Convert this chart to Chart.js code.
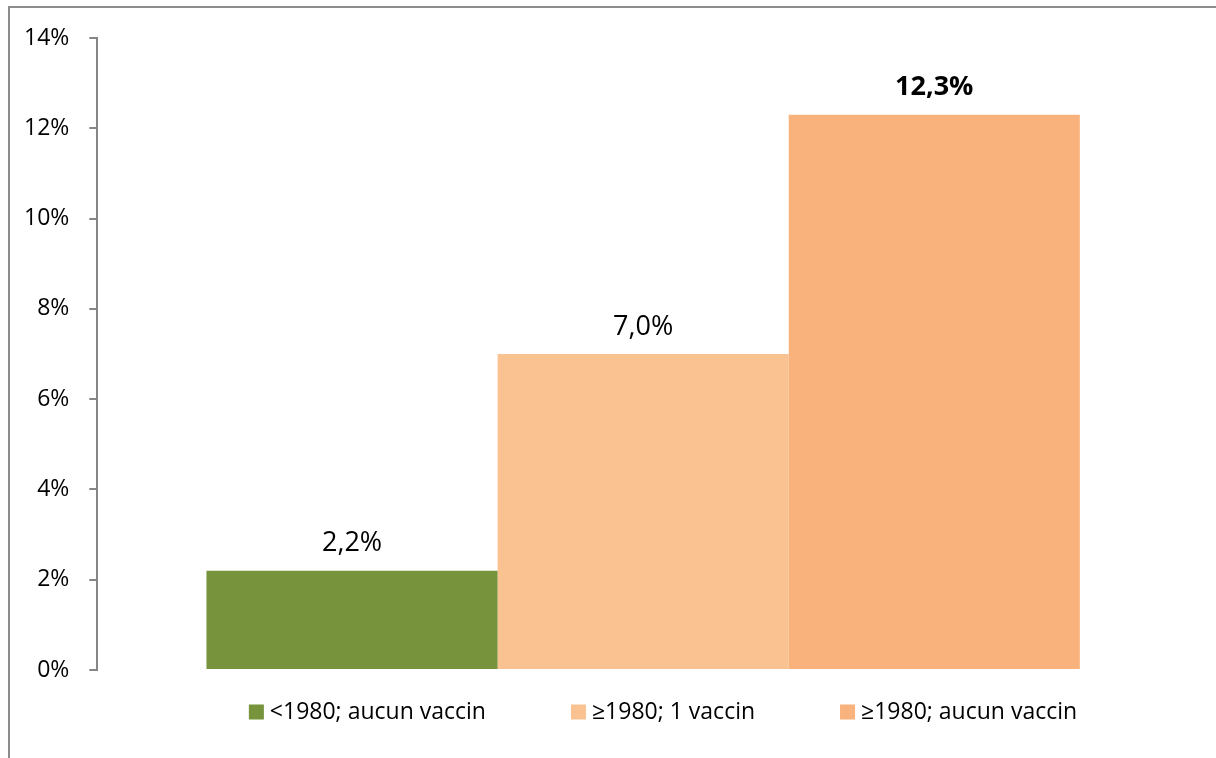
<!DOCTYPE html>
<html>
<head>
<meta charset="utf-8">
<script src="https://cdn.jsdelivr.net/npm/chart.js@4.4.0/dist/chart.umd.min.js"></script>
<style>
  html, body { margin: 0; padding: 0; background: #fff; }
  #wrap { position: relative; width: 1216px; height: 758px; overflow: hidden; }
  #frame { position: absolute; left: 8px; top: 6px; right: -10px; bottom: -10px;
           border-left: 2px solid #8c8c8c; border-top: 2px solid #8c8c8c; }
  canvas { position: absolute; left: 0; top: 0; }
</style>
</head>
<body>
<div id="wrap">
  <div id="frame"></div>
  <canvas id="chart" width="1216" height="758"></canvas>
</div>
<script>
const categories = [''];
const seriesNames = ['<1980; aucun vaccin', '\u22651980; 1 vaccin', '\u22651980; aucun vaccin'];
const seriesValues = [[2.2], [7.0], [12.3]];
const seriesColors = ['#77933C', '#FAC191', '#F9B27B'];
const labelBold = [false, false, true];
const yTicks = [0, 2, 4, 6, 8, 10, 12, 14];

const fontFamily = '"Open Sans", sans-serif';

// value labels above each bar
const valueLabels = {
    id: 'valueLabels',
    afterDatasetsDraw(chart) {
        const ctx = chart.ctx;
        chart.data.datasets.forEach((ds, i) => {
            const meta = chart.getDatasetMeta(i);
            meta.data.forEach((bar, j) => {
                const v = ds.data[j];
                ctx.save();
                ctx.fillStyle = '#000';
                ctx.font = (labelBold[i] ? 'bold ' : '') + '27px ' + fontFamily;
                ctx.textAlign = 'center';
                ctx.textBaseline = 'middle';
                ctx.fillText(v.toFixed(1).replace('.', ',') + '%', bar.x, bar.y - 27);
                ctx.restore();
            });
        });
    }
};

// legend row under the plot, spaced like the original
const bottomLegend = {
    id: 'bottomLegend',
    afterDraw(chart) {
        const ctx = chart.ctx;
        const box = 15, gap = 6, spacing = 85;
        const centerX = 663, centerY = 712;
        ctx.save();
        ctx.font = '23px ' + fontFamily;
        const items = chart.data.datasets.map(ds => ({
            text: ds.label,
            color: ds.backgroundColor,
            w: box + gap + ctx.measureText(ds.label).width
        }));
        const total = items.reduce((s, it) => s + it.w, 0) + spacing * (items.length - 1);
        let x = centerX - total / 2;
        ctx.textBaseline = 'middle';
        items.forEach(it => {
            ctx.fillStyle = it.color;
            ctx.fillRect(x, centerY - box / 2, box, box);
            ctx.fillStyle = '#000';
            ctx.fillText(it.text, x + box + gap, centerY);
            x += it.w + spacing;
        });
        ctx.restore();
    }
};

new Chart(document.getElementById('chart'), {
    type: 'bar',
    data: {
        labels: categories,
        datasets: seriesNames.map((name, i) => ({
            label: name,
            data: seriesValues[i],
            backgroundColor: seriesColors[i],
            borderWidth: 0,
            barPercentage: 1.0,
            categoryPercentage: 0.8
        }))
    },
    options: {
        responsive: false,
        animation: false,
        layout: {
            padding: { top: 38, right: 27, bottom: 88, left: 4 }
        },
        plugins: {
            legend: { display: false },
            tooltip: { enabled: false }
        },
        scales: {
            x: {
                display: false
            },
            y: {
                min: 0,
                max: 14,
                afterBuildTicks: axis => {
                    axis.ticks = yTicks.map(v => ({ value: v }));
                },
                border: { display: true, color: '#868686', width: 2 },
                grid: {
                    drawOnChartArea: false,
                    drawTicks: true,
                    tickLength: 8,
                    color: '#868686',
                    lineWidth: 2
                },
                ticks: {
                    padding: 20,
                    color: '#000',
                    font: { family: fontFamily, size: 23 },
                    callback: v => v + '%'
                }
            }
        }
    },
    plugins: [valueLabels, bottomLegend]
});
</script>
</body>
</html>
